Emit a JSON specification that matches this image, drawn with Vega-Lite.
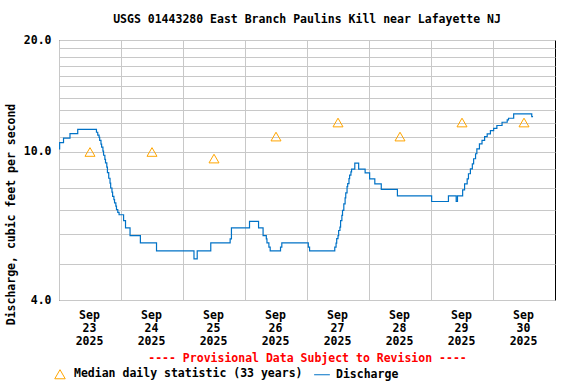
{
  "$schema": "https://vega.github.io/schema/vega-lite/v6.json",
  "width": 496,
  "height": 260,
  "autosize": {"type": "none"},
  "padding": {"left": 59, "top": 40, "right": 21, "bottom": 84},
  "title": {
    "text": "USGS 01443280 East Branch Paulins Kill near Lafayette NJ",
    "anchor": "middle",
    "frame": "group",
    "font": "DejaVu Sans Mono",
    "fontSize": 11.5,
    "fontWeight": "bold",
    "color": "#000",
    "offset": 9
  },
  "datasets": {
    "q": [
      {"t": "2025-09-23T00:00", "v": 10.2, "s": "D"},
      {"t": "2025-09-23T00:15", "v": 10.6, "s": "D"},
      {"t": "2025-09-23T01:45", "v": 10.9, "s": "D"},
      {"t": "2025-09-23T04:15", "v": 11.2, "s": "D"},
      {"t": "2025-09-23T07:15", "v": 11.5, "s": "D"},
      {"t": "2025-09-23T14:30", "v": 11.3, "s": "D"},
      {"t": "2025-09-23T15:00", "v": 11.1, "s": "D"},
      {"t": "2025-09-23T15:30", "v": 10.95, "s": "D"},
      {"t": "2025-09-23T15:45", "v": 10.75, "s": "D"},
      {"t": "2025-09-23T16:15", "v": 10.5, "s": "D"},
      {"t": "2025-09-23T16:30", "v": 10.3, "s": "D"},
      {"t": "2025-09-23T17:00", "v": 10.05, "s": "D"},
      {"t": "2025-09-23T17:15", "v": 9.8, "s": "D"},
      {"t": "2025-09-23T17:45", "v": 9.55, "s": "D"},
      {"t": "2025-09-23T18:00", "v": 9.35, "s": "D"},
      {"t": "2025-09-23T18:30", "v": 9.1, "s": "D"},
      {"t": "2025-09-23T18:45", "v": 8.8, "s": "D"},
      {"t": "2025-09-23T19:15", "v": 8.5, "s": "D"},
      {"t": "2025-09-23T19:45", "v": 8.25, "s": "D"},
      {"t": "2025-09-23T20:00", "v": 8.0, "s": "D"},
      {"t": "2025-09-23T20:30", "v": 7.8, "s": "D"},
      {"t": "2025-09-23T20:45", "v": 7.6, "s": "D"},
      {"t": "2025-09-23T21:15", "v": 7.45, "s": "D"},
      {"t": "2025-09-23T21:30", "v": 7.3, "s": "D"},
      {"t": "2025-09-23T22:00", "v": 7.15, "s": "D"},
      {"t": "2025-09-23T22:15", "v": 7.0, "s": "D"},
      {"t": "2025-09-23T22:45", "v": 6.88, "s": "D"},
      {"t": "2025-09-23T23:15", "v": 6.78, "s": "D"},
      {"t": "2025-09-24T01:00", "v": 6.54, "s": "D"},
      {"t": "2025-09-24T01:45", "v": 6.25, "s": "D"},
      {"t": "2025-09-24T03:30", "v": 5.96, "s": "D"},
      {"t": "2025-09-24T07:30", "v": 5.7, "s": "D"},
      {"t": "2025-09-24T13:45", "v": 5.42, "s": "D"},
      {"t": "2025-09-25T04:15", "v": 5.16, "s": "D"},
      {"t": "2025-09-25T05:30", "v": 5.42, "s": "D"},
      {"t": "2025-09-25T10:45", "v": 5.7, "s": "D"},
      {"t": "2025-09-25T18:15", "v": 5.84, "s": "D"},
      {"t": "2025-09-25T18:45", "v": 6.25, "s": "D"},
      {"t": "2025-09-26T01:45", "v": 6.51, "s": "D"},
      {"t": "2025-09-26T05:15", "v": 6.25, "s": "D"},
      {"t": "2025-09-26T07:00", "v": 5.96, "s": "D"},
      {"t": "2025-09-26T08:15", "v": 5.84, "s": "D"},
      {"t": "2025-09-26T08:30", "v": 5.7, "s": "D"},
      {"t": "2025-09-26T09:15", "v": 5.55, "s": "D"},
      {"t": "2025-09-26T09:45", "v": 5.42, "s": "D"},
      {"t": "2025-09-26T13:45", "v": 5.55, "s": "D"},
      {"t": "2025-09-26T14:15", "v": 5.7, "s": "D"},
      {"t": "2025-09-27T00:30", "v": 5.55, "s": "D"},
      {"t": "2025-09-27T01:00", "v": 5.42, "s": "D"},
      {"t": "2025-09-27T10:45", "v": 5.55, "s": "D"},
      {"t": "2025-09-27T11:15", "v": 5.69, "s": "D"},
      {"t": "2025-09-27T11:30", "v": 5.85, "s": "D"},
      {"t": "2025-09-27T12:00", "v": 5.96, "s": "D"},
      {"t": "2025-09-27T12:15", "v": 6.15, "s": "D"},
      {"t": "2025-09-27T12:45", "v": 6.28, "s": "D"},
      {"t": "2025-09-27T13:00", "v": 6.54, "s": "D"},
      {"t": "2025-09-27T13:30", "v": 6.75, "s": "D"},
      {"t": "2025-09-27T13:45", "v": 6.97, "s": "D"},
      {"t": "2025-09-27T14:15", "v": 7.25, "s": "D"},
      {"t": "2025-09-27T14:45", "v": 7.53, "s": "D"},
      {"t": "2025-09-27T15:00", "v": 7.76, "s": "D"},
      {"t": "2025-09-27T15:30", "v": 8.07, "s": "D"},
      {"t": "2025-09-27T15:45", "v": 8.22, "s": "D"},
      {"t": "2025-09-27T16:15", "v": 8.48, "s": "D"},
      {"t": "2025-09-27T16:30", "v": 8.66, "s": "D"},
      {"t": "2025-09-27T17:00", "v": 8.84, "s": "D"},
      {"t": "2025-09-27T17:15", "v": 8.99, "s": "D"},
      {"t": "2025-09-27T18:30", "v": 9.33, "s": "D"},
      {"t": "2025-09-27T20:00", "v": 8.99, "s": "D"},
      {"t": "2025-09-27T22:30", "v": 8.79, "s": "D"},
      {"t": "2025-09-28T00:15", "v": 8.47, "s": "D"},
      {"t": "2025-09-28T02:15", "v": 8.21, "s": "D"},
      {"t": "2025-09-28T04:45", "v": 7.93, "s": "D"},
      {"t": "2025-09-28T11:00", "v": 7.62, "s": "D"},
      {"t": "2025-09-29T00:15", "v": 7.36, "s": "D"},
      {"t": "2025-09-29T06:45", "v": 7.62, "s": "D"},
      {"t": "2025-09-29T09:45", "v": 7.36, "s": "D"},
      {"t": "2025-09-29T10:15", "v": 7.62, "s": "D"},
      {"t": "2025-09-29T12:15", "v": 7.91, "s": "D"},
      {"t": "2025-09-29T13:00", "v": 8.21, "s": "D"},
      {"t": "2025-09-29T14:00", "v": 8.47, "s": "D"},
      {"t": "2025-09-29T14:30", "v": 8.74, "s": "D"},
      {"t": "2025-09-29T15:15", "v": 9.01, "s": "D"},
      {"t": "2025-09-29T16:00", "v": 9.29, "s": "D"},
      {"t": "2025-09-29T16:30", "v": 9.59, "s": "D"},
      {"t": "2025-09-29T17:15", "v": 9.89, "s": "D"},
      {"t": "2025-09-29T17:45", "v": 10.2, "s": "D"},
      {"t": "2025-09-29T18:45", "v": 10.52, "s": "D"},
      {"t": "2025-09-29T19:45", "v": 10.74, "s": "D"},
      {"t": "2025-09-29T20:45", "v": 11.0, "s": "D"},
      {"t": "2025-09-29T21:45", "v": 11.19, "s": "D"},
      {"t": "2025-09-29T23:00", "v": 11.42, "s": "D"},
      {"t": "2025-09-30T00:15", "v": 11.58, "s": "D"},
      {"t": "2025-09-30T01:30", "v": 11.78, "s": "D"},
      {"t": "2025-09-30T03:30", "v": 12.02, "s": "D"},
      {"t": "2025-09-30T05:30", "v": 12.2, "s": "D"},
      {"t": "2025-09-30T06:00", "v": 12.32, "s": "D"},
      {"t": "2025-09-30T08:00", "v": 12.66, "s": "D"},
      {"t": "2025-09-30T15:00", "v": 12.45, "s": "D"},
      {"t": "2025-09-30T15:30", "v": 12.45, "s": "D"}
    ],
    "m": [
      {"t": "2025-09-23T12:00", "v": 10.0, "s": "M"},
      {"t": "2025-09-24T12:00", "v": 10.0, "s": "M"},
      {"t": "2025-09-25T12:00", "v": 9.6, "s": "M"},
      {"t": "2025-09-26T12:00", "v": 11.0, "s": "M"},
      {"t": "2025-09-27T12:00", "v": 12.0, "s": "M"},
      {"t": "2025-09-28T12:00", "v": 11.0, "s": "M"},
      {"t": "2025-09-29T12:00", "v": 12.0, "s": "M"},
      {"t": "2025-09-30T12:00", "v": 12.0, "s": "M"}
    ]
  },
  "encoding": {
    "x": {
      "field": "t",
      "type": "temporal",
      "scale": {
        "domain": [
          {"year": 2025, "month": "sep", "date": 23},
          {"year": 2025, "month": "oct", "date": 1}
        ]
      },
      "axis": {
        "values": [
          {"year": 2025, "month": "sep", "date": 23},
          {"year": 2025, "month": "sep", "date": 24},
          {"year": 2025, "month": "sep", "date": 25},
          {"year": 2025, "month": "sep", "date": 26},
          {"year": 2025, "month": "sep", "date": 27},
          {"year": 2025, "month": "sep", "date": 28},
          {"year": 2025, "month": "sep", "date": 29},
          {"year": 2025, "month": "sep", "date": 30}
        ],
        "labelExpr": "[timeFormat(datum.value, '%b'), timeFormat(datum.value, '%d'), timeFormat(datum.value, '%Y')]",
        "labelOffset": 30,
        "labelAlign": "center",
        "labelBaseline": "top",
        "labelPadding": 9,
        "labelLineHeight": 13,
        "title": "---- Provisional Data Subject to Revision ----",
        "titleColor": "#FF0000",
        "titlePadding": 6,
        "grid": true
      }
    },
    "y": {
      "field": "v",
      "type": "quantitative",
      "scale": {"type": "log", "domain": [4, 20], "nice": false, "zero": false},
      "axis": {
        "values": [4, 5, 6, 7, 8, 9, 10, 11, 12, 13, 14, 15, 16, 17, 18, 19, 20],
        "labelExpr": "indexof([4, 10, 20], datum.value) >= 0 ? format(datum.value, '.1f') : ''",
        "labelPadding": 8,
        "title": "Discharge, cubic feet per second",
        "titlePadding": 7,
        "titleY": 174,
        "grid": true
      }
    },
    "color": {
      "field": "s",
      "type": "nominal",
      "scale": {"domain": ["M", "D"], "range": ["#FFA500", "#0072C6"]},
      "legend": {
        "orient": "none",
        "legendX": -5,
        "legendY": 328,
        "direction": "horizontal",
        "title": null,
        "labelExpr": "datum.value == 'M' ? 'Median daily statistic (33 years)' : 'Discharge'",
        "labelLimit": 400,
        "symbolSize": 110,
        "symbolStrokeWidth": 1,
        "labelOffset": 8,
        "columnPadding": 9,
        "labelFont": "DejaVu Sans Mono",
        "labelFontSize": 11.5,
        "labelFontWeight": "bold",
        "labelColor": "#000"
      }
    }
  },
  "layer": [
    {
      "data": {"name": "q"},
      "mark": {"type": "line", "interpolate": "step-after", "strokeWidth": 1.2}
    },
    {
      "data": {"name": "m"},
      "mark": {"type": "point", "filled": false, "size": 100, "strokeWidth": 1, "opacity": 1},
      "encoding": {
        "shape": {
          "field": "s",
          "type": "nominal",
          "scale": {"domain": ["M", "D"], "range": ["triangle-up", "M-1.5,0L1.5,0"]},
          "legend": {
            "orient": "none",
            "legendX": -5,
            "legendY": 328,
            "direction": "horizontal",
            "title": null,
            "labelExpr": "datum.value == 'M' ? 'Median daily statistic (33 years)' : 'Discharge'",
            "labelLimit": 400,
            "symbolSize": 110,
            "symbolStrokeWidth": 1,
            "labelOffset": 8,
            "columnPadding": 9,
            "labelFont": "DejaVu Sans Mono",
            "labelFontSize": 11.5,
            "labelFontWeight": "bold",
            "labelColor": "#000"
          }
        }
      }
    }
  ],
  "config": {
    "font": "DejaVu Sans Mono",
    "view": {"stroke": "#000", "strokeWidth": 1},
    "axis": {
      "labelFont": "DejaVu Sans Mono",
      "labelFontSize": 11.5,
      "labelFontWeight": "bold",
      "labelColor": "#000",
      "titleFont": "DejaVu Sans Mono",
      "titleFontSize": 11.5,
      "titleFontWeight": "bold",
      "titleColor": "#000",
      "gridColor": "#C8C8C8",
      "gridOpacity": 1,
      "gridWidth": 1,
      "domain": false,
      "ticks": false
    }
  }
}
